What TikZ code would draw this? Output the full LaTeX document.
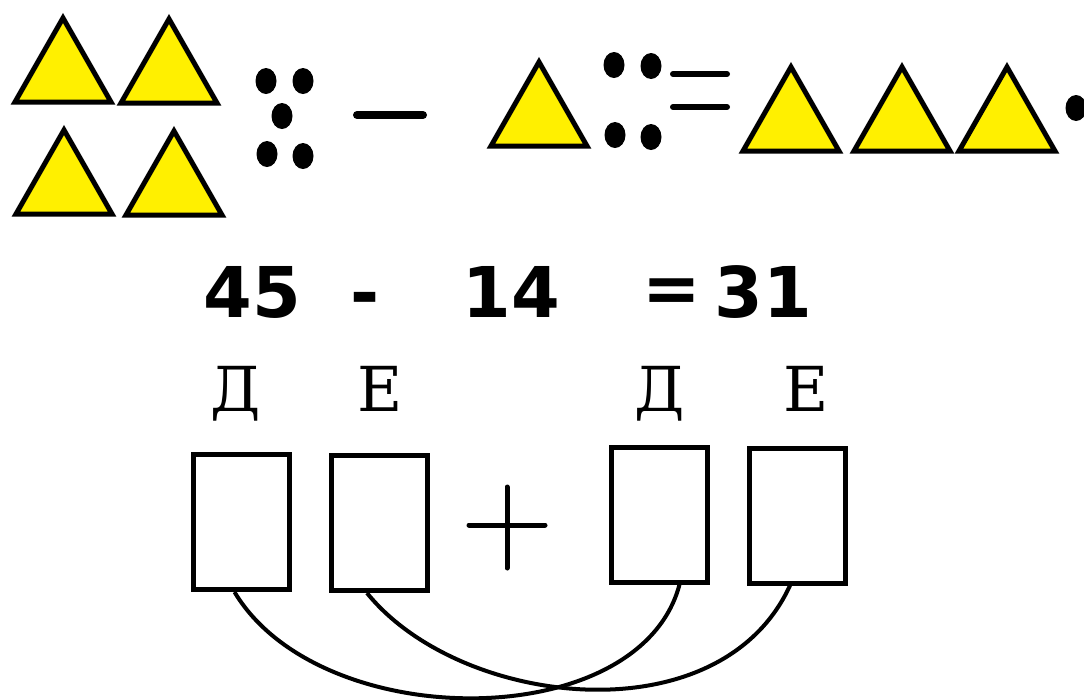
\documentclass[tikz,border=0pt]{standalone}
\usepackage{fontspec}
\setmainfont{DejaVu Serif}
\newfontfamily\numfont{DejaVu Sans}
\usetikzlibrary{calc}
\definecolor{triyellow}{HTML}{FFF000}
\tikzset{
    tri/.style={draw=black, fill=triyellow, line width=5pt, line join=miter},
    dot/.style={fill=black},
    bar/.style={line width=6pt, line cap=round},
    numlabel/.style={inner sep=0pt, font=\numfont\bfseries\fontsize{70}{80}\selectfont},
    letter/.style={inner sep=0pt, font=\fontsize{62}{70}\selectfont},
    cell/.style={draw=black, line width=5pt, minimum width=96pt, minimum height=135pt, inner sep=0pt},
    link/.style={line width=4pt}
}
\begin{document}
\begin{tikzpicture}[x=1pt, y=-1pt]

    \useasboundingbox (0,0) rectangle (1084,699);

    % Triangles (apex x, apex y)
    \foreach \ax/\ay in {63/18, 169/19, 64/130, 174/131, 539/62, 791/67, 902/67, 1007/67} {
        \draw[tri] (\ax,\ay) -- ++(-48,84) -- ++(96,0) -- cycle;
    }

    % Dots
    \foreach \dx/\dy in {266/81, 303/81, 282/116, 267/154, 303/156, 614/65, 651/66, 615/135, 651/137, 1076/108} {
        \fill[dot] (\dx,\dy) ellipse (10.5 and 13);
    }

    % Minus and equals
    \draw[bar, line width=8pt] (357,115) -- (423,115);
    \draw[bar] (673,74) -- (727,74);
    \draw[bar] (673,107) -- (727,107);

    % Equation
    \node[numlabel] (n45) at (252,292) {45};
    \node[numlabel] (minus) at (365,305) {-};
    \node[numlabel] (n14) at (511,292) {14};
    \node[numlabel] (eq) at (672,296) {=};
    \node[numlabel] (n31) at (763,292) {31};

    % Letters
    \node[letter] (d1) at (236,394) {Д};
    \node[letter] (e1) at (380,389) {Е};
    \node[letter] (d2) at (660,394) {Д};
    \node[letter] (e2) at (806,389) {Е};

    % Boxes
    \node[cell] (box1) at (241.5,522) {};
    \node[cell] (box2) at (379,523) {};
    \node[cell] (box3) at (659.5,514.5) {};
    \node[cell] (box4) at (797,515.5) {};

    % Plus
    \draw[line width=5pt, line cap=round] (469,525) -- (545,525);
    \draw[line width=5pt, line cap=round] (507,487) -- (507,568);

    % Links under the boxes
    \draw[link] ([xshift=-7pt]box1.south) .. controls (320,735) and (640,735) .. ([xshift=20pt]box3.south);
    \draw[link] ([xshift=-12pt]box2.south) .. controls (460,708) and (720,738) .. ([xshift=-7pt]box4.south);

\end{tikzpicture}
\end{document}
